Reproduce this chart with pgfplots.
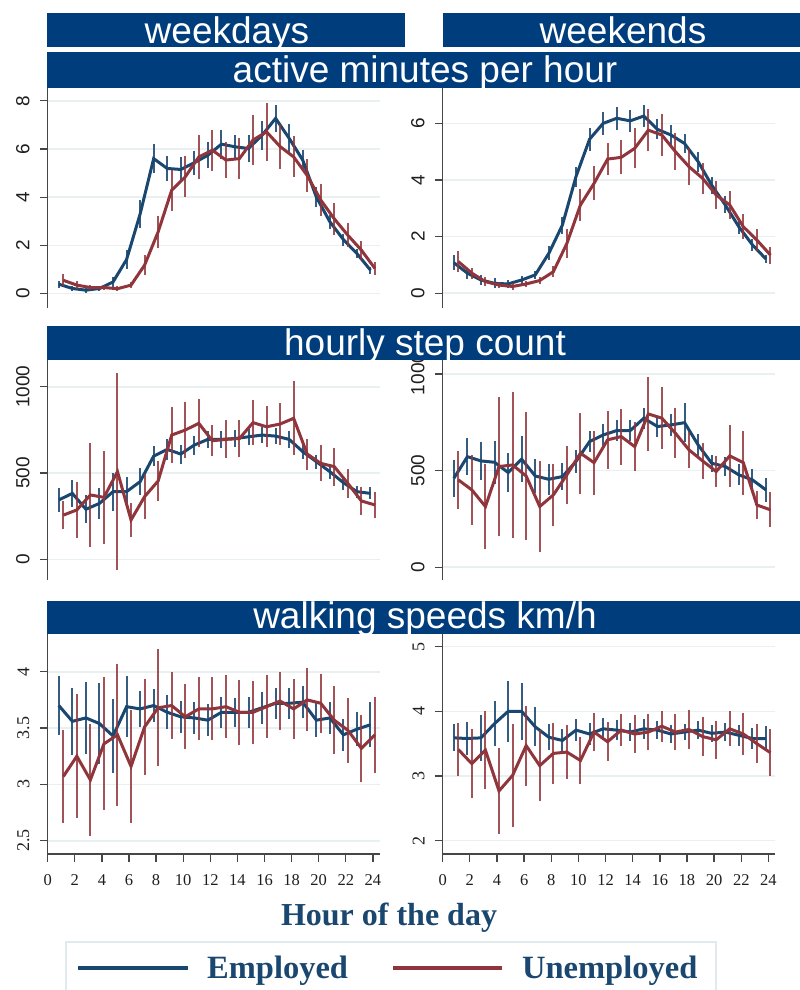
\documentclass[border=0pt]{standalone}
\usepackage{pgfplots}
\usepackage{pgfplotstable}
\pgfplotsset{compat=1.18}
\usepackage{fontspec}
\setmainfont{Liberation Serif}
\newfontfamily\arial{Liberation Sans}
\newfontfamily\tnr{Liberation Serif}

\definecolor{bluec}{RGB}{26,71,111}
\definecolor{redc}{RGB}{144,53,59}
\definecolor{barc}{RGB}{0,61,124}
\definecolor{gridc}{RGB}{232,240,242}
\definecolor{axisc}{RGB}{70,70,70}
\definecolor{tickc}{RGB}{30,30,30}
\definecolor{legc}{RGB}{225,234,236}

% h  b (employed) be (half CI)  r (unemployed) re
\pgfplotstableread{
h b be r re
1 0.39 0.15 0.55 0.25
2 0.21 0.10 0.35 0.15
3 0.14 0.10 0.25 0.12
4 0.21 0.10 0.25 0.12
5 0.48 0.20 0.20 0.10
6 1.41 0.40 0.35 0.12
7 3.30 0.60 1.18 0.40
8 5.60 0.60 2.56 0.65
9 5.19 0.50 4.29 0.85
10 5.15 0.50 4.84 0.85
11 5.43 0.50 5.67 0.90
12 5.74 0.55 5.95 0.85
13 6.20 0.60 5.54 0.75
14 6.09 0.50 5.60 0.85
15 6.02 0.55 6.37 1.05
16 6.57 0.60 6.71 1.20
17 7.27 0.55 6.10 0.95
18 6.44 0.60 5.67 0.85
19 5.54 0.40 4.90 0.70
20 4.01 0.40 3.88 0.65
21 2.98 0.30 3.10 0.65
22 2.24 0.25 2.42 0.50
23 1.66 0.20 1.80 0.40
24 0.97 0.15 1.04 0.28
}\tA
\pgfplotstableread{
h b be r re
1 1.08 0.27 1.12 0.38
2 0.71 0.20 0.71 0.20
3 0.47 0.18 0.41 0.15
4 0.35 0.18 0.29 0.12
5 0.33 0.15 0.24 0.12
6 0.47 0.15 0.33 0.12
7 0.65 0.15 0.45 0.12
8 1.41 0.25 0.76 0.20
9 2.41 0.30 1.76 0.50
10 4.12 0.35 3.12 0.55
11 5.44 0.40 3.88 0.60
12 6.00 0.40 4.74 0.55
13 6.18 0.40 4.80 0.60
14 6.09 0.40 5.12 0.70
15 6.26 0.40 5.76 0.75
16 5.79 0.35 5.59 0.75
17 5.59 0.35 5.00 0.65
18 5.29 0.35 4.47 0.65
19 4.65 0.35 4.06 0.55
20 3.82 0.30 3.47 0.50
21 3.12 0.30 3.12 0.50
22 2.35 0.25 2.35 0.45
23 1.71 0.20 1.88 0.40
24 1.21 0.15 1.35 0.30
}\tB
\pgfplotstableread{
h b be r re
1 344 70 256 80
2 382 80 286 160
3 290 80 373 300
4 324 90 359 270
5 392 110 508 570
6 392 85 228 100
7 450 80 363 130
8 598 60 454 115
9 637 60 720 160
10 610 55 749 160
11 662 55 788 140
12 695 50 687 90
13 695 50 695 110
14 700 50 700 110
15 710 50 792 130
16 720 45 768 120
17 714 45 784 120
18 695 50 817 215
19 624 45 610 90
20 566 40 556 105
21 508 40 537 110
22 444 40 440 85
23 392 35 338 80
24 382 35 315 75
}\tC
\pgfplotstableread{
h b be r re
1 460 95 452 150
2 572 95 400 180
3 550 100 314 220
4 543 110 521 360
5 490 100 529 377
6 559 120 472 330
7 472 90 314 235
8 455 80 374 160
9 469 70 478 150
10 547 60 590 210
11 650 55 541 165
12 684 55 659 150
13 707 55 676 145
14 707 55 624 125
15 771 55 793 190
16 728 55 771 160
17 736 55 693 130
18 748 100 607 95
19 633 55 550 95
20 538 45 495 80
21 521 50 576 160
22 478 55 541 165
23 452 55 322 70
24 400 60 297 90
}\tD
\pgfplotstableread{
h b be r re
1 3.70 0.26 3.07 0.41
2 3.56 0.30 3.25 0.55
3 3.59 0.32 3.04 0.50
4 3.54 0.36 3.36 0.59
5 3.43 0.33 3.44 0.63
6 3.69 0.27 3.16 0.50
7 3.67 0.16 3.51 0.43
8 3.70 0.15 3.68 0.52
9 3.64 0.15 3.70 0.30
10 3.60 0.14 3.60 0.29
11 3.59 0.14 3.67 0.28
12 3.57 0.14 3.67 0.28
13 3.64 0.14 3.69 0.28
14 3.64 0.13 3.64 0.29
15 3.64 0.14 3.64 0.28
16 3.68 0.14 3.69 0.28
17 3.72 0.14 3.74 0.26
18 3.72 0.14 3.67 0.27
19 3.73 0.14 3.75 0.28
20 3.57 0.15 3.72 0.26
21 3.59 0.14 3.57 0.30
22 3.44 0.14 3.48 0.29
23 3.49 0.15 3.32 0.30
24 3.53 0.20 3.44 0.34
}\tE
\pgfplotstableread{
h b be r re
1 3.59 0.21 3.41 0.41
2 3.58 0.25 3.19 0.53
3 3.59 0.35 3.40 0.60
4 3.81 0.35 2.77 0.66
5 4.00 0.47 3.01 0.80
6 4.00 0.44 3.47 0.62
7 3.76 0.30 3.16 0.55
8 3.60 0.20 3.35 0.47
9 3.55 0.18 3.37 0.42
10 3.71 0.17 3.24 0.37
11 3.65 0.17 3.68 0.29
12 3.73 0.17 3.53 0.30
13 3.71 0.15 3.71 0.25
14 3.68 0.14 3.65 0.30
15 3.73 0.15 3.68 0.28
16 3.71 0.14 3.77 0.24
17 3.65 0.14 3.68 0.28
18 3.68 0.13 3.72 0.30
19 3.71 0.14 3.61 0.30
20 3.66 0.13 3.56 0.29
21 3.68 0.14 3.73 0.27
22 3.63 0.16 3.65 0.32
23 3.58 0.16 3.50 0.30
24 3.58 0.20 3.36 0.36
}\tF

\pgfplotsset{
  panel/.style={
    scale only axis, width=332pt, height=220pt,
    anchor=north west,
    xmin=0, xmax=24.5,
    axis y line*=left,
    axis line style={-, draw=axisc, line width=1.3pt},
    tick align=outside, major tick length=8pt,
    tick style={draw=axisc, line width=1.3pt},
    ymajorgrids, grid style={draw=gridc, line width=1.6pt},
    yticklabel style={rotate=90, anchor=south, inner sep=0pt, text=tickc,
      font=\arial\fontsize{19}{19}\selectfont},
    yticklabel shift=10pt,
    clip=false,
  },
  toppanel/.style={panel, axis x line=none, xtick=\empty},
  botpanel/.style={panel, axis x line*=bottom,
    xtick={0,2,4,6,8,10,12,14,16,18,20,22,24},
    xticklabels={0,2,4,6,8,10,12,14,16,18,20,22,24},
    xticklabel style={anchor=north, inner sep=0pt, text=tickc,
      font=\tnr\fontsize{16.5}{16.5}\selectfont},
    xticklabel shift=12pt,
    yticklabel style={font=\tnr\fontsize{18}{18}\selectfont},
  },
  emp/.style={bluec, line width=3pt, no markers,
    error bars/.cd, y dir=both, y explicit, error mark=none,
    error bar style={line width=2pt, bluec, opacity=0.88}},
  une/.style={redc, line width=3pt, no markers,
    error bars/.cd, y dir=both, y explicit, error mark=none,
    error bar style={line width=2pt, redc, opacity=0.85}},
}

\newcommand{\series}[1]{%
  \addplot[emp] table[x expr=\thisrow{h}-0.18, y=b, y error=be] {#1};
  \addplot[une] table[x expr=\thisrow{h}+0.15, y=r, y error=re] {#1};
}

\begin{document}
\begin{tikzpicture}
\path[use as bounding box] (0pt,0pt) rectangle (800pt,-990pt);

% top row: active minutes
\begin{axis}[toppanel, at={(47.7pt,-88pt)}, ymin=-0.6, ymax=8.53,
  ytick={0,2,4,6,8}, yticklabels={0,2,4,6,8}]
\series{\tA}
\end{axis}
\begin{axis}[toppanel, at={(442.7pt,-88pt)}, width=332.5pt, ymin=-0.52, ymax=7.25,
  ytick={0,2,4,6}, yticklabels={0,2,4,6}]
\series{\tB}
\end{axis}

% middle row: steps
\begin{axis}[toppanel, at={(47.7pt,-360pt)}, ymin=-120, ymax=1155,
  ytick={0,500,1000}, yticklabels={0,500,1000}]
\series{\tC}
\end{axis}
\begin{axis}[toppanel, at={(442.7pt,-360pt)}, width=332.5pt, ymin=-66, ymax=1072,
  ytick={0,500,1000}, yticklabels={0,500,1000}]
\series{\tD}
\end{axis}

% bottom row: walking speed
\begin{axis}[botpanel, at={(47.7pt,-634pt)}, ymin=2.382, ymax=4.335,
  ytick={2.5,3,3.5,4}, yticklabels={2.5,3,3.5,4}]
\series{\tE}
\end{axis}
\begin{axis}[botpanel, at={(442.7pt,-634pt)}, width=332.5pt, ymin=1.794, ymax=5.196,
  ytick={2,3,4,5}, yticklabels={2,3,4,5}]
\series{\tF}
\end{axis}

% header bars
\fill[barc] (47pt,-13pt) rectangle (405pt,-47pt);
\fill[barc] (443pt,-13pt) rectangle (800pt,-47pt);
\fill[barc] (47pt,-52pt) rectangle (800pt,-88pt);
\fill[barc] (47pt,-326pt) rectangle (800pt,-360pt);
\fill[barc] (47pt,-601pt) rectangle (800pt,-634pt);
\begin{scope}[every node/.style={anchor=base, text=white, inner sep=0pt,
    font=\arial\fontsize{37}{37}\selectfont}]
\node at (227pt,-44pt) {weekdays};
\node at (623pt,-44pt) {weekends};
\node at (425pt,-82pt) {active minutes per hour};
\node at (425pt,-355pt) {hourly step count};
\node at (425pt,-628pt) {walking speeds km/h};
\end{scope}

% x title
\node[anchor=base, inner sep=0pt, text=bluec, font=\tnr\bfseries\fontsize{32}{32}\selectfont]
  at (389pt,-925pt) {Hour of the day};

% legend
\draw[legc, line width=1.2pt] (66pt,-942pt) rectangle (716pt,-1005pt);
\draw[bluec, line width=3.5pt] (78pt,-968pt) -- (188pt,-968pt);
\draw[redc, line width=3.5pt] (393pt,-968pt) -- (502pt,-968pt);
\node[anchor=base west, inner sep=0pt, text=bluec, font=\tnr\bfseries\fontsize{32.5}{32.5}\selectfont]
  at (207pt,-978pt) {Employed};
\node[anchor=base west, inner sep=0pt, text=bluec, font=\tnr\bfseries\fontsize{32.5}{32.5}\selectfont]
  at (522pt,-978pt) {Unemployed};
\end{tikzpicture}
\end{document}
